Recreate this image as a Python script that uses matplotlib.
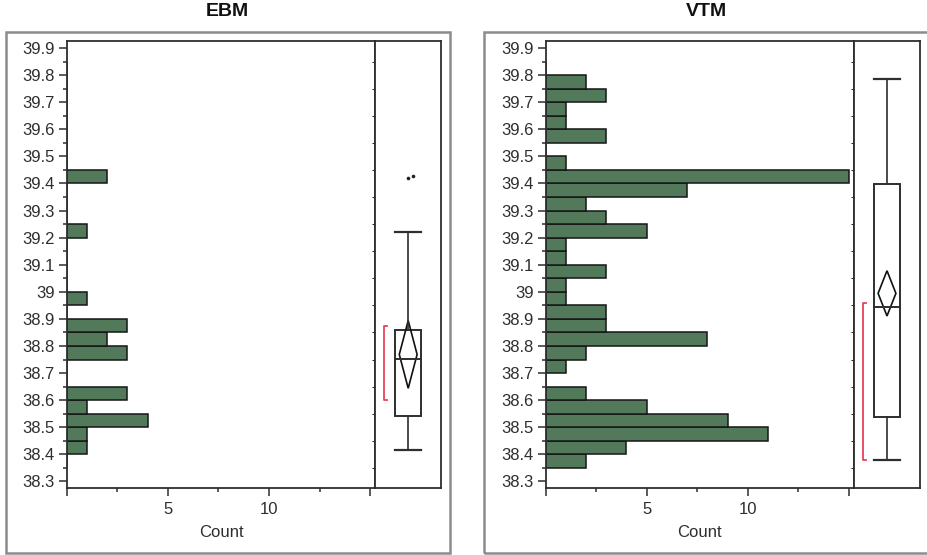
import matplotlib
matplotlib.use('Agg')
import matplotlib.pyplot as plt
from matplotlib.patches import Rectangle, Polygon
from matplotlib.ticker import FixedLocator, FuncFormatter


# lower edge of every 0.05 wide bin
bin_lo = [38.35, 38.40, 38.45, 38.50, 38.55, 38.60, 38.65, 38.70, 38.75, 38.80,
	38.85, 38.90, 38.95, 39.00, 39.05, 39.10, 39.15, 39.20, 39.25, 39.30,
	39.35, 39.40, 39.45, 39.50, 39.55, 39.60, 39.65, 39.70, 39.75, 39.80]
bin_w = 0.05

ebm_counts = [0, 1, 1, 4, 1, 3, 0, 0, 3, 2,
	3, 0, 1, 0, 0, 0, 0, 1, 0, 0,
	0, 2, 0, 0, 0, 0, 0, 0, 0, 0]
vtm_counts = [2, 4, 11, 9, 5, 2, 0, 1, 2, 8,
	3, 3, 1, 1, 3, 1, 1, 5, 3, 2,
	7, 15, 1, 0, 3, 1, 1, 3, 2, 0]

# whisker low, q1, median, q3, whisker high
ebm_quart = [38.417, 38.540, 38.752, 38.859, 39.222]
vtm_quart = [38.380, 38.537, 38.945, 39.398, 39.785]
# means diamond (lower, upper 95% limit)
ebm_diamond = [38.644, 38.894]
vtm_diamond = [38.911, 39.078]
# shortest half bracket
ebm_short = [38.601, 38.875]
vtm_short = [38.380, 38.958]
ebm_outliers = [39.421, 39.429]
vtm_outliers = []

y_ticks = [38.3, 38.4, 38.5, 38.6, 38.7, 38.8, 38.9, 39.0,
	39.1, 39.2, 39.3, 39.4, 39.5, 39.6, 39.7, 39.8, 39.9]

plt.rcParams['font.family'] = ['Liberation Sans', 'DejaVu Sans']

W, H = 927, 555
txt = '#2e2e2e'
line = '#2e2e2e'
green = '#52795a'
ylim = (38.276, 39.926)


def fx(px):
	return px / W


def fy(py):
	return 1 - py / H


def panel(fig, x0, title, counts, quart, diamond, short, outliers):
	# outer frame and title
	fig.add_artist(Rectangle((fx(x0 - 61), fy(553)), fx(444), (553 - 32) / H,
		transform=fig.transFigure, fill=False, ec='#8c8c8c', lw=1.8))
	fig.text(fx(x0 - 61 + 222), fy(12), title, ha='center', va='center',
		fontsize=14, fontweight='bold', color='#111111')

	top, bot = 41, 488
	ax = fig.add_axes([fx(x0), fy(bot), fx(308.5), (bot - top) / H])
	bx = fig.add_axes([fx(x0 + 308.5), fy(bot), fx(66), (bot - top) / H], sharey=ax)

	ax.barh(bin_lo, counts, height=bin_w, align='edge', color=green,
		edgecolor='#151515', linewidth=1.1)
	ax.set_xlim(0, 15.25)
	ax.set_ylim(*ylim)

	ax.yaxis.set_major_locator(FixedLocator(y_ticks))
	ax.yaxis.set_minor_locator(FixedLocator([t + 0.05 for t in y_ticks[:-1]]))
	ax.yaxis.set_major_formatter(FuncFormatter(lambda v, p: f'{round(v, 1):g}'))
	ax.xaxis.set_major_locator(FixedLocator([0, 5, 10, 15]))
	ax.xaxis.set_minor_locator(FixedLocator([2.5, 7.5, 12.5]))
	ax.xaxis.set_major_formatter(FuncFormatter(lambda v, p: f'{v:g}' if v in (5, 10) else ''))
	ax.tick_params(which='major', direction='out', length=6, width=1.1,
		color=line, labelsize=12, labelcolor=txt, pad=2.5)
	ax.tick_params(axis='x', which='major', pad=4)
	ax.tick_params(which='minor', direction='out', length=3, width=1.1, color=line)
	ax.set_xlabel('Count', fontsize=12, color=txt, labelpad=6)
	for s in ax.spines.values():
		s.set_color(line)
		s.set_linewidth(1.3)

	# box plot panel
	bx.set_xlim(0, 1)
	bx.tick_params(left=False, labelleft=False, bottom=False, labelbottom=False)
	for s in bx.spines.values():
		s.set_color(line)
		s.set_linewidth(1.3)

	c, hw = 0.5, 0.2
	lo, q1, med, q3, hi = quart
	bx.add_patch(Rectangle((c - hw, q1), 2 * hw, q3 - q1, fill=False, ec=line, lw=1.4))
	bx.plot([c - hw, c + hw], [med, med], color=line, lw=1.4)
	bx.plot([c, c], [q3, hi], color=line, lw=1.2)
	bx.plot([c, c], [lo, q1], color=line, lw=1.2)
	bx.plot([c - hw, c + hw], [hi, hi], color=line, lw=1.6)
	bx.plot([c - hw, c + hw], [lo, lo], color=line, lw=1.6)

	dl, du = diamond
	m = (dl + du) / 2
	dw = 0.135
	bx.add_patch(Polygon([(c, du), (c + dw, m), (c, dl), (c - dw, m)], closed=True,
		fill=False, ec='#111111', lw=1.2))

	bxr = 0.14
	bx.plot([bxr + 0.045, bxr, bxr, bxr + 0.045], [short[1], short[1], short[0], short[0]],
		color='#e8415a', lw=1.3)

	for i, v in enumerate(outliers):
		bx.plot(c + 0.07 * i, v, marker='o', ms=1.6, color='#222222', ls='none')

	return ax, bx


def main():
	fig = plt.figure(figsize=(W / 100, H / 100), dpi=100)
	panel(fig, 66.7, 'EBM', ebm_counts, ebm_quart, ebm_diamond, ebm_short, ebm_outliers)
	panel(fig, 545.5, 'VTM', vtm_counts, vtm_quart, vtm_diamond, vtm_short, vtm_outliers)
	fig.savefig('out.png', dpi=100)


if __name__ == "__main__":
	main()
